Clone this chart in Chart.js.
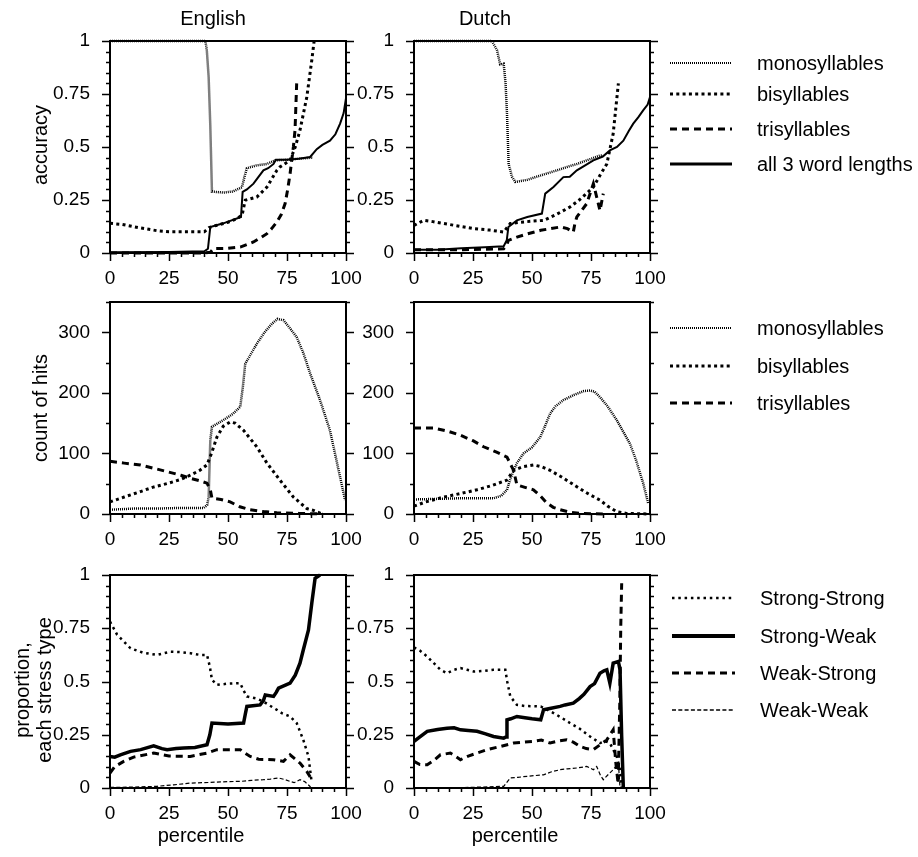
<!DOCTYPE html>
<html lang="en">
<head>
<meta charset="UTF-8">
<title>Accuracy, hits and stress type by percentile</title>
<script src="https://cdn.jsdelivr.net/npm/chart.js"></script>
<style>
  html, body { margin: 0; padding: 0; background: #fff; }
  body { width: 918px; height: 857px; position: relative; overflow: hidden;
         font-family: "Liberation Sans", Arial, sans-serif; color: #000; }
  canvas { position: absolute; left: 0; top: 0; pointer-events: none; }
  .lbl { position: absolute; font-size: 20px; white-space: nowrap; transform: translate(-50%, -50%); }
  .rot { transform: translate(-50%, -50%) rotate(-90deg); }
</style>
</head>
<body>
<canvas id="enAcc" width="918" height="857"></canvas>
<canvas id="nlAcc" width="918" height="857"></canvas>
<canvas id="enHit" width="918" height="857"></canvas>
<canvas id="nlHit" width="918" height="857"></canvas>
<canvas id="enStr" width="918" height="857"></canvas>
<canvas id="nlStr" width="918" height="857"></canvas>

<div class="lbl" style="left:213px;top:18px">English</div>
<div class="lbl" style="left:485px;top:18px">Dutch</div>
<div class="lbl rot" style="left:40px;top:145px">accuracy</div>
<div class="lbl rot" style="left:40px;top:408px">count of hits</div>
<div class="lbl rot" style="left:22px;top:690px">proportion,</div>
<div class="lbl rot" style="left:44px;top:690px">each stress type</div>
<div class="lbl" style="left:201px;top:835px">percentile</div>
<div class="lbl" style="left:515px;top:835px">percentile</div>

<script>
// ---- data ----
const xTicks = [0, 25, 50, 75, 100];

// English, accuracy
const enAccMonoX = [0, 40.4, 41, 41.8, 42.5, 43.2, 48, 52, 55.9, 57, 58, 62, 66.5, 70, 75, 80, 86];
const enAccMonoY = [1, 1, 0.96, 0.83, 0.6, 0.29, 0.285, 0.29, 0.31, 0.36, 0.4, 0.413, 0.42, 0.437, 0.44, 0.445, 0.45];
const enAccBiX = [0, 5, 12, 20, 25, 35, 40, 42, 45, 50, 53.8, 56, 57.3, 62.2, 66.5, 70.7, 72, 76.3, 78.5, 80.5, 83.4, 85.5, 86.5];
const enAccBiY = [0.14, 0.135, 0.12, 0.105, 0.1, 0.1, 0.1, 0.12, 0.13, 0.145, 0.162, 0.18, 0.249, 0.264, 0.311, 0.39, 0.406, 0.437, 0.5, 0.579, 0.736, 0.909, 1];
const enAccTriX = [0, 40, 42.5, 43.9, 50, 55.2, 58, 60.8, 63.5, 66.5, 68.5, 70.7, 72.5, 74.2, 75.3, 76.3, 77.7, 78.4, 79.1];
const enAccTriY = [0, 0, 0.003, 0.021, 0.022, 0.028, 0.04, 0.052, 0.07, 0.091, 0.115, 0.146, 0.18, 0.233, 0.3, 0.374, 0.5, 0.579, 0.8];
const enAccAllX = [0, 25, 40, 41.5, 42.5, 48, 55.5, 56.2, 58, 60.8, 63, 65, 67, 69.3, 70.3, 75, 80, 84.8, 87.6, 90, 93.2, 95.5, 97.5, 99, 100];
const enAccAllY = [0.003, 0.005, 0.008, 0.02, 0.123, 0.14, 0.17, 0.288, 0.3, 0.327, 0.36, 0.39, 0.4, 0.42, 0.44, 0.44, 0.445, 0.453, 0.49, 0.51, 0.53, 0.56, 0.61, 0.66, 0.73];

// Dutch, accuracy
const nlAccMonoX = [0, 33, 34, 35.2, 36.5, 38, 38.8, 39.4, 40.1, 41.5, 42.9, 48, 52, 56.3, 62, 66, 69, 74, 78.8, 80];
const nlAccMonoY = [1, 1, 0.98, 0.956, 0.89, 0.893, 0.8, 0.657, 0.42, 0.36, 0.335, 0.345, 0.36, 0.375, 0.395, 0.41, 0.42, 0.44, 0.46, 0.46];
const nlAccBiX = [0, 4.1, 8, 12.6, 20, 25.3, 32, 38, 40.8, 45, 50, 54.9, 60, 66.1, 70, 73, 76, 79, 81.7, 84.4, 86.6];
const nlAccBiY = [0.13, 0.154, 0.148, 0.139, 0.125, 0.115, 0.108, 0.099, 0.139, 0.145, 0.15, 0.154, 0.18, 0.217, 0.25, 0.28, 0.311, 0.37, 0.42, 0.563, 0.8];
const nlAccTriX = [0, 20, 38, 39.4, 40, 43.6, 48, 53.7, 58, 62.2, 65, 67.5, 68.2, 69, 71, 73.2, 76, 77.5, 78.8, 80.2];
const nlAccTriY = [0.015, 0.015, 0.02, 0.04, 0.06, 0.075, 0.09, 0.107, 0.115, 0.123, 0.115, 0.099, 0.14, 0.17, 0.2, 0.233, 0.327, 0.26, 0.2, 0.28];
const nlAccAllX = [0, 10, 20, 30, 38, 39.3, 40, 43.6, 48, 54.2, 55.6, 59.1, 63.3, 66, 69, 72, 76, 80, 83, 86, 88.7, 91, 92.9, 95, 97.1, 99, 100];
const nlAccAllY = [0.015, 0.015, 0.022, 0.027, 0.032, 0.06, 0.123, 0.154, 0.17, 0.186, 0.28, 0.311, 0.358, 0.36, 0.39, 0.41, 0.437, 0.455, 0.484, 0.5, 0.53, 0.575, 0.61, 0.64, 0.673, 0.7, 0.736];

// English, count of hits
const enHitMonoX = [0, 10, 20, 30, 39.7, 41.2, 41.8, 42.5, 43.2, 48, 52, 55.2, 56.3, 57.3, 62.2, 65.5, 68.6, 71, 73.5, 76, 79.1, 82, 84.8, 89, 93.2, 97.5, 99.6];
const enHitMonoY = [7, 9, 9, 10, 10, 15, 28, 122, 144, 155, 165, 177, 210, 248, 281, 300, 314, 322, 320, 308, 292, 265, 232, 188, 138, 61, 23];
const enHitBiX = [0, 6, 12.9, 18, 24.9, 30, 34, 38, 41.1, 43, 45.3, 48, 50.9, 53, 56.6, 62.2, 66.5, 72, 77.7, 83.4, 86.2, 90];
const enHitBiY = [20, 28, 37, 44, 51, 57, 64, 72, 81, 100, 127, 145, 152, 150, 138, 111, 84, 56, 28, 9, 6, 0];
const enHitTriX = [0, 6, 12.9, 18, 24.2, 30, 34, 38, 41.1, 42.5, 43.2, 47, 50.9, 55, 59.4, 65, 70.7, 80, 90];
const enHitTriY = [87, 84, 81, 76, 70, 64, 59, 55, 51, 40, 26, 24, 20, 12, 7, 4, 2, 1, 0];

// Dutch, count of hits
const nlHitMonoX = [0, 10, 19.7, 33.7, 37, 39.4, 41, 43.6, 46.4, 50, 53.5, 55.5, 57.7, 60, 63.3, 68, 72, 74.6, 76.5, 78.8, 82, 85.9, 88.5, 91.5, 94, 97.1, 99.2];
const nlHitMonoY = [24, 25, 26, 26, 30, 40, 60, 84, 100, 110, 127, 145, 166, 178, 188, 197, 203, 204, 202, 193, 178, 155, 137, 116, 90, 51, 18];
const nlHitBiX = [0, 5, 12.6, 20, 26.7, 33, 39.4, 42.2, 46, 50.6, 54, 57.7, 63, 69, 74, 78.8, 82, 85.9, 90, 100];
const nlHitBiY = [13, 20, 28, 34, 40, 47, 56, 72, 78, 81, 78, 72, 60, 45, 33, 23, 13, 4, 1, 0];
const nlHitTriX = [0, 8.4, 14, 19.7, 25, 29.5, 35, 39.4, 42.2, 43.6, 47, 50.6, 53.5, 56.3, 59, 61.9, 66, 70, 80];
const nlHitTriY = [142, 142, 137, 130, 121, 111, 102, 94, 72, 48, 44, 40, 30, 18, 11, 7, 3, 1, 0];

// English, stress types
const enSSX = [0, 3, 8.7, 14, 20, 25.6, 30, 34, 38, 41.1, 42.3, 43.2, 45.3, 50, 55.2, 56.5, 58, 62, 65, 68, 70.7, 73, 76.3, 79.1, 81.9, 84.1, 85.5];
const enSSY = [0.781, 0.72, 0.656, 0.635, 0.625, 0.64, 0.638, 0.633, 0.625, 0.625, 0.57, 0.508, 0.484, 0.49, 0.492, 0.46, 0.43, 0.42, 0.406, 0.385, 0.367, 0.35, 0.336, 0.305, 0.226, 0.148, 0.023];
const enSWX = [0, 2, 4.4, 8.7, 13, 18.5, 22, 24.2, 28, 31.2, 36, 41.1, 42.3, 43.2, 50, 56.6, 57.3, 58, 63.6, 65, 65.8, 69.3, 70.5, 71.4, 76.3, 78.5, 80.5, 81.9, 84.1, 85.5, 86.9, 89];
const enSWY = [0.148, 0.145, 0.156, 0.172, 0.18, 0.198, 0.185, 0.18, 0.185, 0.188, 0.19, 0.203, 0.25, 0.305, 0.3, 0.305, 0.345, 0.383, 0.39, 0.41, 0.437, 0.43, 0.45, 0.469, 0.492, 0.53, 0.586, 0.648, 0.742, 0.867, 0.985, 1];
const enWSX = [0, 2, 5.8, 10, 18.5, 25, 34, 41.1, 45.3, 50, 55.2, 57, 59.4, 63, 69.3, 73.5, 76.3, 78, 80.5, 83.4, 85.5];
const enWSY = [0.07, 0.1, 0.125, 0.145, 0.164, 0.15, 0.148, 0.164, 0.18, 0.18, 0.18, 0.165, 0.148, 0.135, 0.133, 0.125, 0.156, 0.14, 0.117, 0.078, 0.039];
const enWWX = [0, 10, 20, 27, 34, 42, 50, 55.2, 60, 65, 68, 71.4, 74, 76.3, 78, 80.5, 82.5, 85];
const enWWY = [0.003, 0.004, 0.008, 0.015, 0.023, 0.026, 0.03, 0.031, 0.036, 0.039, 0.042, 0.047, 0.04, 0.031, 0.025, 0.039, 0.03, 0.005];

// Dutch, stress types
const nlSSX = [0, 2.5, 5.6, 8.5, 11.2, 14, 17, 19.7, 22.5, 25.3, 30, 33.7, 38.7, 39.5, 40.8, 43.6, 47, 53.7, 56, 59.1, 62.5, 66.1, 70, 74.6, 78.8, 81, 83, 85.9, 87.3, 88];
const nlSSY = [0.66, 0.645, 0.617, 0.585, 0.555, 0.539, 0.555, 0.563, 0.555, 0.547, 0.55, 0.555, 0.555, 0.5, 0.43, 0.39, 0.385, 0.383, 0.37, 0.352, 0.33, 0.305, 0.28, 0.242, 0.211, 0.22, 0.211, 0.148, 0.086, 0];
const nlSWX = [0, 2.5, 5.6, 10, 14, 17, 19.7, 23, 26.7, 30, 33.7, 38, 39, 39.4, 41, 43.6, 47, 50, 53.7, 54.9, 57, 61.9, 64, 67.5, 70, 72, 74.6, 76.5, 78.8, 80.5, 81.7, 83, 84.4, 86.6, 87.3, 88, 88.7];
const nlSWY = [0.219, 0.24, 0.266, 0.275, 0.281, 0.283, 0.273, 0.27, 0.266, 0.255, 0.242, 0.234, 0.24, 0.32, 0.325, 0.336, 0.33, 0.325, 0.32, 0.367, 0.372, 0.383, 0.39, 0.398, 0.42, 0.44, 0.476, 0.49, 0.539, 0.55, 0.555, 0.492, 0.586, 0.594, 0.555, 0.242, 0];
const nlWSX = [0, 2.5, 5.6, 8.5, 11.2, 15.4, 17.5, 19.7, 23, 26.7, 31, 36.6, 42.2, 46, 50.6, 54, 57.7, 61, 64.7, 67.5, 70.4, 73, 76, 78.5, 81.7, 84.4, 85.5, 86.5, 87.2, 87.6, 88];
const nlWSY = [0.125, 0.11, 0.109, 0.13, 0.156, 0.164, 0.15, 0.133, 0.15, 0.164, 0.18, 0.195, 0.211, 0.215, 0.219, 0.225, 0.211, 0.22, 0.226, 0.215, 0.195, 0.185, 0.18, 0.2, 0.226, 0.273, 0.12, 0.02, 0.4, 0.75, 0.961];
const nlWWX = [0, 14, 25, 38, 40.8, 44, 47.9, 51, 54.9, 58, 61.9, 65, 69, 73.2, 76, 77.4, 79, 80.2, 82, 84.4, 86.6, 87.3];
const nlWWY = [0, 0, 0.003, 0.008, 0.047, 0.05, 0.055, 0.058, 0.062, 0.075, 0.086, 0.09, 0.094, 0.101, 0.086, 0.101, 0.06, 0.039, 0.06, 0.086, 0.117, 0];

// ---- line styles ----
const STY = {
  mono: { borderWidth: 2.5, borderDash: [1, 1] },
  bi:   { borderWidth: 3, borderDash: [3, 3.3] },
  tri:  { borderWidth: 3, borderDash: [7, 5] },
  all:  { borderWidth: 2, borderDash: [] },
  ss:   { borderWidth: 2.5, borderDash: [2.5, 3.8] },
  sw:   { borderWidth: 3.5, borderDash: [] },
  ws:   { borderWidth: 3, borderDash: [7, 5] },
  ww:   { borderWidth: 1.2, borderDash: [4, 2.3] }
};

function series(label, xs, ys, sty) {
  return {
    label: label,
    data: xs.map((x, i) => ({ x: x, y: ys[i] })),
    borderColor: '#000',
    borderWidth: sty.borderWidth,
    borderDash: sty.borderDash,
    borderCapStyle: 'butt',
    fill: false,
    pointRadius: 0,
    tension: 0,
    clip: 4
  };
}

// frame + outward ticks (major and minor), drawn from the chart's scales
const framePlugin = {
  id: 'frame',
  afterDraw(chart, args, opts) {
    const ctx = chart.ctx, a = chart.chartArea;
    const xs = chart.scales.x, ys = chart.scales.y;
    ctx.save();
    ctx.strokeStyle = '#000';
    ctx.lineWidth = 2;
    ctx.strokeRect(a.left, a.top, a.right - a.left, a.bottom - a.top);
    ctx.lineWidth = 1.5;
    ctx.beginPath();
    const nY = Math.round((ys.max - ys.min) / opts.yMinor);
    for (let i = 0; i <= nY; i++) {
      const v = ys.min + i * opts.yMinor;
      const p = Math.round(ys.getPixelForValue(v)) + 0.5;
      const major = Math.abs(v / opts.yMajor - Math.round(v / opts.yMajor)) < 1e-6;
      const len = major ? 8 : 4;
      ctx.moveTo(a.left - len, p); ctx.lineTo(a.left, p);
      ctx.moveTo(a.right, p); ctx.lineTo(a.right + len, p);
    }
    const nX = Math.round((xs.max - xs.min) / opts.xMinor);
    for (let i = 0; i <= nX; i++) {
      const v = xs.min + i * opts.xMinor;
      const p = Math.round(xs.getPixelForValue(v)) + 0.5;
      const major = Math.abs(v / opts.xMajor - Math.round(v / opts.xMajor)) < 1e-6;
      const len = major ? 8 : 4;
      ctx.moveTo(p, a.bottom); ctx.lineTo(p, a.bottom + len);
    }
    ctx.stroke();
    ctx.restore();
  }
};

// legend to the right of the Dutch panels
const sideLegendPlugin = {
  id: 'sideLegend',
  afterDraw(chart, args, opts) {
    if (!opts.rows) return;
    const ctx = chart.ctx;
    ctx.save();
    ctx.font = '20px "Liberation Sans", Arial, sans-serif';
    ctx.fillStyle = '#000';
    ctx.textBaseline = 'middle';
    chart.data.datasets.forEach((ds, i) => {
      const y = opts.rows[i];
      ctx.strokeStyle = '#000';
      ctx.lineWidth = opts.widths ? opts.widths[i] : ds.borderWidth;
      ctx.setLineDash(ds.borderDash);
      ctx.lineCap = 'butt';
      ctx.beginPath();
      ctx.moveTo(opts.x0, y); ctx.lineTo(opts.x1, y);
      ctx.stroke();
      ctx.setLineDash([]);
      ctx.fillText(ds.label, opts.textX, y + 1);
    });
    ctx.restore();
  }
};

Chart.register(framePlugin, sideLegendPlugin);

const tickFont = { family: '"Liberation Sans", Arial, sans-serif', size: 19 };

function makePanel(id, box, yCfg, datasets, legend) {
  const YW = 70, XH = 40;
  new Chart(document.getElementById(id), {
    type: 'line',
    data: { datasets: datasets },
    options: {
      responsive: false,
      animation: false,
      events: [],
      layout: { padding: { left: box.l - YW, right: 918 - box.r, top: box.t, bottom: 857 - box.b - XH } },
      plugins: {
        legend: { display: false },
        tooltip: { enabled: false },
        frame: { xMajor: 25, xMinor: 5, yMajor: yCfg.major, yMinor: yCfg.minor },
        sideLegend: legend || {}
      },
      scales: {
        x: {
          type: 'linear', min: 0, max: 100,
          afterFit: s => { s.height = XH; },
          afterBuildTicks: s => { s.ticks = xTicks.map(v => ({ value: v })); },
          grid: { display: false }, border: { display: false },
          ticks: { padding: 6, maxRotation: 0, autoSkip: false, color: '#000', font: tickFont }
        },
        y: {
          type: 'linear', min: 0, max: yCfg.max,
          afterFit: s => { s.width = YW; },
          afterBuildTicks: s => { s.ticks = yCfg.labels.map(v => ({ value: v })); },
          grid: { display: false }, border: { display: false },
          ticks: { padding: 12, autoSkip: false, color: '#000', font: tickFont, callback: v => String(v) }
        }
      }
    }
  });
}

const accY = { max: 1, major: 0.25, minor: 0.05, labels: [0, 0.25, 0.5, 0.75, 1] };
const hitY = { max: 350, major: 100, minor: 50, labels: [0, 100, 200, 300] };
const strY = { max: 1, major: 0.25, minor: 0.05, labels: [0, 0.25, 0.5, 0.75, 1] };

const EN = { l: 110, r: 346 }, NL = { l: 414, r: 650 };
const ROW1 = { t: 41, b: 253 }, ROW2 = { t: 302, b: 514 }, ROW3 = { t: 575, b: 788 };

makePanel('enAcc', Object.assign({}, EN, ROW1), accY, [
  series('monosyllables', enAccMonoX, enAccMonoY, STY.mono),
  series('bisyllables', enAccBiX, enAccBiY, STY.bi),
  series('trisyllables', enAccTriX, enAccTriY, STY.tri),
  series('all 3 word lengths', enAccAllX, enAccAllY, STY.all)
]);
makePanel('nlAcc', Object.assign({}, NL, ROW1), accY, [
  series('monosyllables', nlAccMonoX, nlAccMonoY, STY.mono),
  series('bisyllables', nlAccBiX, nlAccBiY, STY.bi),
  series('trisyllables', nlAccTriX, nlAccTriY, STY.tri),
  series('all 3 word lengths', nlAccAllX, nlAccAllY, STY.all)
], { x0: 670, x1: 732, textX: 757, rows: [63, 94, 129, 164], widths: [2, 3, 3, 3] });

makePanel('enHit', Object.assign({}, EN, ROW2), hitY, [
  series('monosyllables', enHitMonoX, enHitMonoY, STY.mono),
  series('bisyllables', enHitBiX, enHitBiY, STY.bi),
  series('trisyllables', enHitTriX, enHitTriY, STY.tri)
]);
makePanel('nlHit', Object.assign({}, NL, ROW2), hitY, [
  series('monosyllables', nlHitMonoX, nlHitMonoY, STY.mono),
  series('bisyllables', nlHitBiX, nlHitBiY, STY.bi),
  series('trisyllables', nlHitTriX, nlHitTriY, STY.tri)
], { x0: 670, x1: 732, textX: 757, rows: [328, 366, 403], widths: [2, 3, 3] });

makePanel('enStr', Object.assign({}, EN, ROW3), strY, [
  series('Strong-Strong', enSSX, enSSY, STY.ss),
  series('Strong-Weak', enSWX, enSWY, STY.sw),
  series('Weak-Strong', enWSX, enWSY, STY.ws),
  series('Weak-Weak', enWWX, enWWY, STY.ww)
]);
makePanel('nlStr', Object.assign({}, NL, ROW3), strY, [
  series('Strong-Strong', nlSSX, nlSSY, STY.ss),
  series('Strong-Weak', nlSWX, nlSWY, STY.sw),
  series('Weak-Strong', nlWSX, nlWSY, STY.ws),
  series('Weak-Weak', nlWWX, nlWWY, STY.ww)
], { x0: 672, x1: 735, textX: 760, rows: [598, 636, 673, 710], widths: [2.5, 4, 3, 1.5] });
</script>
</body>
</html>
